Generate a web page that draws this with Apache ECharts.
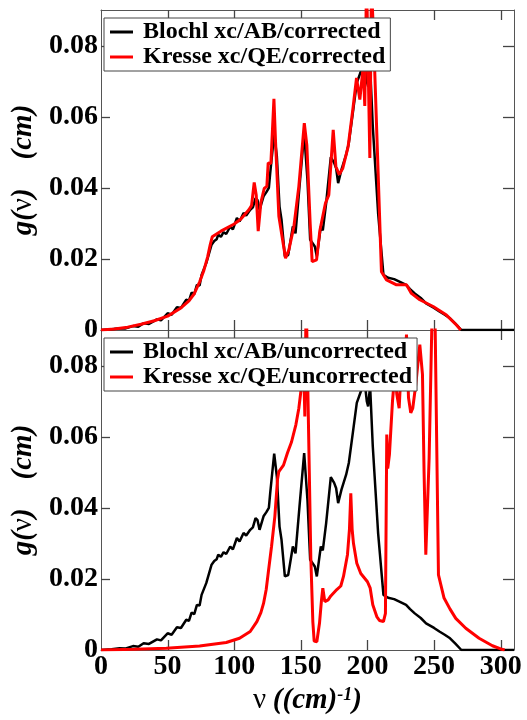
<!DOCTYPE html>
<html>
<head>
<meta charset="utf-8">
<title>g(v)</title>
<script src="https://cdn.jsdelivr.net/npm/echarts@6.0.0/dist/echarts.min.js"></script>
<style>
  html, body { margin: 0; padding: 0; background: #fff; }
  #dos { width: 527px; height: 720px; }
</style>
</head>
<body>
<div id="dos"></div>
<script>
// nu (cm^-1), g(nu) (cm)
// Bloechl AB curve: corrected and uncorrected look the same in the picture
var blochAB = [
  [0,0],[8,0.0002],[14,0.0005],[18,0.0004],[24,0.0011],[28,0.0009],[32,0.0019],[36,0.0017],
  [42,0.003],[45,0.0027],[50,0.0047],[53,0.0043],[57,0.0064],[60,0.0062],[64,0.0085],[66,0.0082],
  [68,0.0105],[70,0.0101],[72,0.0127],[74,0.0125],[75.5,0.0155],[77,0.0152],[79,0.0188],[83,0.024],
  [85,0.025],[86.8,0.0255],[88,0.0268],[90,0.0262],[92,0.0275],[94,0.027],[97,0.0291],[99,0.0283],
  [102,0.0315],[104,0.0305],[107,0.0329],[109,0.0322],[112,0.0338],[114,0.0345],[116,0.0371],
  [117.5,0.0365],[119,0.0338],[122,0.0376],[124,0.0387],[126,0.04],[127,0.0441],[128,0.0445],
  [130,0.0552],[132,0.0488],[134,0.0347],[135.5,0.031],[138,0.0207],[140.5,0.0211],[144,0.0291],
  [146,0.0272],[149,0.0404],[152.5,0.0554],[155,0.042],[157,0.0254],[160.5,0.0235],[162,0.0207],
  [165,0.0291],[166.5,0.028],[169,0.0357],[172.5,0.0486],[175,0.047],[176.5,0.0455],[178,0.0413],
  [180.5,0.0451],[184,0.0493],[186,0.0526],[189,0.061],[192,0.0695],[195.5,0.0732],[198,0.0751],
  [199.5,0.07],[200.5,0.0685],[202,0.0742],[204,0.0573],[208,0.0329],[212,0.0155],[215.5,0.0147],
  [220,0.0143],[224,0.0136],[229,0.0127],[232,0.0115],[235.5,0.0103],[240,0.009],[244,0.0075],
  [250,0.0062],[254,0.0052],[258,0.0043],[262,0.0033],[266,0.0018],[270.5,0],[310,0]
];

var kresseCorrected = [
  [0,0],[10,0.0003],[20,0.0008],[30,0.0016],[40,0.0026],[50,0.0039],[60,0.0062],[66,0.0082],
  [70,0.0102],[74,0.0135],[77,0.0165],[80,0.0205],[82,0.024],[83.5,0.0262],[90,0.0278],[100,0.0298],
  [105,0.0312],[111,0.0338],[113,0.035],[115,0.0415],[116.5,0.038],[118,0.0278],[120,0.0358],
  [122.5,0.0398],[124.5,0.0404],[125.5,0.047],[127.5,0.0468],[129.8,0.065],[131,0.053],[133.5,0.032],
  [138.5,0.0202],[141,0.0225],[144.8,0.0291],[148.5,0.0404],[152.6,0.0582],[154.5,0.052],[157,0.03],
  [158.5,0.0192],[161.8,0.0197],[164.3,0.028],[168.5,0.0357],[171,0.038],[174.3,0.0563],[176.3,0.046],
  [178.8,0.0437],[181.5,0.0455],[185.5,0.0516],[189.3,0.0629],[191.8,0.0709],[194.3,0.0648],
  [196.8,0.0742],[198,0.063],[199.3,0.098],[200.5,0.075],[201.8,0.0484],[203,0.097],[204.5,0.0836],
  [210.5,0.0164],[214.3,0.0141],[221.8,0.0127],[229.3,0.0127],[233,0.0103],[239.3,0.0085],
  [249.3,0.0066],[259.3,0.0042],[266.8,0.0014],[270,0]
];

var kresseUncorrected = [
  [0,0],[25,0.0002],[49,0.0005],[74,0.0011],[94,0.0021],[104,0.0033],[112,0.0052],[117,0.008],
  [120,0.0105],[122,0.0131],[124,0.017],[125.5,0.0216],[128,0.0291],[130.5,0.0376],[132.5,0.048],
  [133.5,0.0502],[137,0.052],[140,0.0555],[143,0.0585],[146.3,0.0634],[148.5,0.068],[150.5,0.0742],
  [152,0.082],[153,0.0657],[154,0.1],[155.5,0.1],[157.5,0.0258],[159,0.008],[160,0.0025],[162,0.0023],
  [164,0.0075],[165.5,0.014],[166.5,0.0174],[168,0.0136],[170.5,0.0141],[172.5,0.0152],[177,0.017],
  [180,0.018],[182,0.0207],[185,0.0268],[186.5,0.034],[187.5,0.0441],[188.5,0.034],[189.5,0.03],
  [192,0.0244],[195,0.0215],[200,0.0192],[202,0.0175],[204,0.0127],[207,0.0094],[209,0.0083],
  [212,0.008],[213.5,0.0103],[214.5,0.0606],[215.2,0.051],[216.5,0.055],[218.8,0.07],[220.8,0.079],
  [222,0.072],[223.8,0.068],[225.8,0.083],[226.8,0.073],[229.3,0.0887],[230.8,0.071],[232.5,0.0667],
  [234,0.068],[236.3,0.0747],[239.3,0.0859],[241.3,0.0775],[242.5,0.05],[243.8,0.0268],[246.3,0.054],
  [248.8,0.1],[250.5,0.1],[253.3,0.0211],[257.5,0.0146],[262,0.0115],[266.3,0.0089],[273.8,0.0061],
  [283.8,0.0033],[293.8,0.0012],[300,0.0003],[303,0]
];

var legendTop = ['Blochl xc/AB/corrected', 'Kresse xc/QE/corrected'];
var legendBottom = ['Blochl xc/AB/uncorrected', 'Kresse xc/QE/uncorrected'];

var xRange = [0, 310], xStep = 50;
var yRange = [0, 0.09], yStep = 0.02;
var xTicks = [50, 100, 150, 200, 250, 300];
var yTicks = [0.02, 0.04, 0.06, 0.08];

var myChart = echarts.init(document.getElementById('dos'));

var serif = 'Liberation Serif';

function axisOf(type, grid, pos, labels) {
  return {
    type: 'value', gridIndex: grid, position: pos,
    min: type === 'x' ? xRange[0] : yRange[0],
    max: type === 'x' ? xRange[1] : yRange[1],
    interval: type === 'x' ? xStep : yStep,
    axisLine: { show: true, onZero: false, lineStyle: { color: '#555', width: 1 } },
    axisTick: { show: false },
    axisLabel: {
      show: labels, showMaxLabel: false, margin: 3,
      fontFamily: serif, fontWeight: 'bold', fontSize: 28, color: '#000'
    },
    splitLine: { show: false }
  };
}

var yTitle = {
  name: '{i|g(}{n|ν}{i|)    (cm)}',
  nameLocation: 'middle',
  nameGap: 61,
  nameTextStyle: {
    rich: {
      i: { fontFamily: serif, fontWeight: 'bold', fontStyle: 'italic', fontSize: 29, color: '#000' },
      n: { fontFamily: serif, fontSize: 29, color: '#000' }
    }
  }
};

var xTitle = {
  name: '{n|ν}  {i|((cm)}{s|-1}{i|)}',
  nameLocation: 'middle',
  nameGap: 36,
  nameTextStyle: {
    rich: {
      n: { fontFamily: serif, fontSize: 29, color: '#000' },
      i: { fontFamily: serif, fontWeight: 'bold', fontStyle: 'italic', fontSize: 29, color: '#000' },
      s: { fontFamily: serif, fontWeight: 'bold', fontStyle: 'italic', fontSize: 18, color: '#000', verticalAlign: 'top' }
    }
  }
};

function legendOf(top, names) {
  return {
    data: names, orient: 'vertical', left: 104, top: top,
    backgroundColor: '#fff', borderColor: '#444', borderWidth: 1,
    padding: [2, 5, 2, 6], itemGap: 1,
    icon: 'rect', itemWidth: 23, itemHeight: 3,
    textStyle: { fontFamily: serif, fontWeight: 'bold', fontSize: 24, color: '#000', padding: [0, 0, 0, 5], lineHeight: 23 }
  };
}

function line(name, data, color, w, xi, yi) {
  return {
    name: name, type: 'line', data: data,
    xAxisIndex: xi, yAxisIndex: yi,
    showSymbol: false,
    lineStyle: { color: color, width: w },
    itemStyle: { color: color }
  };
}

option = {
  animation: false,
  grid: [
    { left: 101, right: 13, top: 10, height: 320 },
    { left: 101, right: 13, top: 330, height: 320 }
  ],
  legend: [legendOf(18, legendTop), legendOf(338, legendBottom)],
  xAxis: [
    axisOf('x', 0, 'bottom', false),
    axisOf('x', 0, 'top', false),
    Object.assign(axisOf('x', 1, 'bottom', true), xTitle),
    axisOf('x', 1, 'top', false)
  ],
  yAxis: [
    Object.assign(axisOf('y', 0, 'left', true), yTitle),
    axisOf('y', 0, 'right', false),
    Object.assign(axisOf('y', 1, 'left', true), yTitle),
    axisOf('y', 1, 'right', false)
  ],
  series: [
    line(legendTop[0], blochAB, '#000', 2.5, 0, 0),
    line(legendTop[1], kresseCorrected, '#f00', 3, 0, 0),
    line(legendBottom[0], blochAB, '#000', 2.5, 2, 2),
    line(legendBottom[1], kresseUncorrected, '#f00', 3, 2, 2)
  ]
};

myChart.setOption(option);

// inward ticks on all four sides, placed with the axes' own scales
function seg(x1, y1, x2, y2) {
  return {
    type: 'line', z: 3, silent: true,
    shape: { x1: x1, y1: y1, x2: x2, y2: y2 },
    style: { stroke: '#444', lineWidth: 1.3 }
  };
}

function drawTicks() {
  var els = [];
  [0, 2].forEach(function (i) {
    var yb = myChart.convertToPixel({ yAxisIndex: i }, yRange[0]);
    var yt = myChart.convertToPixel({ yAxisIndex: i }, yRange[1]);
    var xl = myChart.convertToPixel({ xAxisIndex: i }, xRange[0]);
    var xr = myChart.convertToPixel({ xAxisIndex: i }, xRange[1]);
    xTicks.forEach(function (v) {
      var x = Math.round(myChart.convertToPixel({ xAxisIndex: i }, v)) + 0.5;
      els.push(seg(x, yb, x, yb - 10), seg(x, yt, x, yt + 10));
    });
    yTicks.forEach(function (v) {
      var y = Math.round(myChart.convertToPixel({ yAxisIndex: i }, v)) + 0.5;
      els.push(seg(xl, y, xl + 9, y), seg(xr, y, xr - 11, y));
    });
  });
  myChart.setOption({ graphic: els }, { replaceMerge: ['graphic'] });
}
drawTicks();

window.addEventListener('resize', function () {
  myChart.resize();
  drawTicks();
});
</script>
</body>
</html>
